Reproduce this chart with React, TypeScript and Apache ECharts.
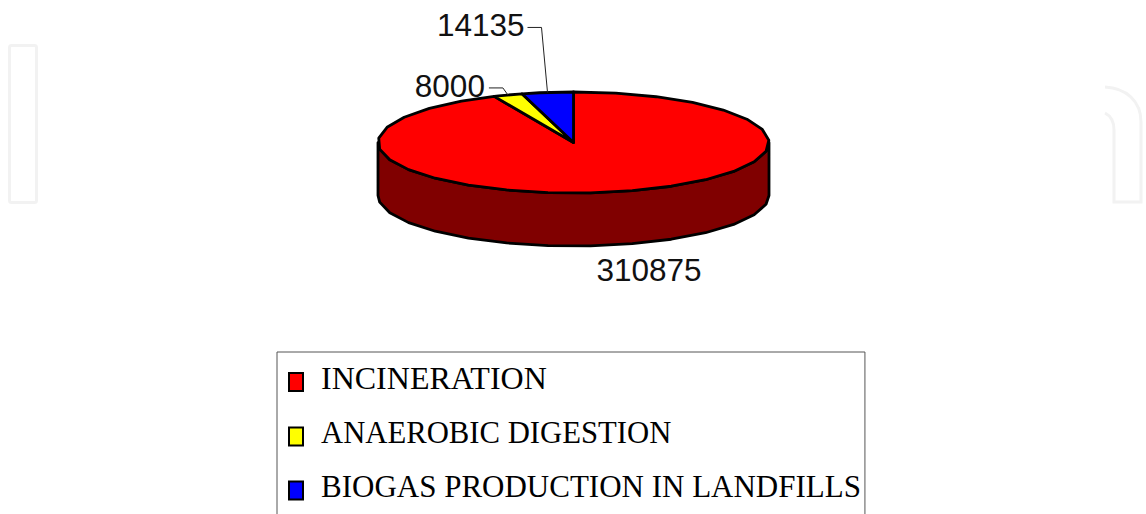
import React, { useEffect, useRef } from "react";
import * as echarts from "echarts";

const categories = ["INCINERATION", "ANAEROBIC DIGESTION", "BIOGAS PRODUCTION IN LANDFILLS"];
const values = [310875, 8000, 14135];
const sliceColors = ["#ff0000", "#ffff00", "#0000ff"];
const wallColors = ["#800000", "#808000", "#000080"];
const legendFontSizes = [32, 30.7, 31];
// label placement: text anchor relative to the slice's rim mid-point, plus an optional leader elbow
const labelOffsets = [
  { dx: 35, dy: 78, leader: null },
  { dx: -23, dy: -9, leader: [[-5, -7], [-19, -7]] },
  { dx: -23, dy: -67, leader: [[-6, -65], [-20, -65]] },
];

const CX = 573.5;
const CY = 142.5;
const RX = 195.5;
const RY = 50.5;
const DEPTH = 53;
const STEP = 12.5;

const pt = (deg: number, drop = 0): number[] => {
  const a = (deg * Math.PI) / 180;
  return [CX + RX * Math.sin(a), CY - RY * Math.cos(a) + drop];
};

const arcPoints = (from: number, to: number, drop = 0): number[][] => {
  const out = [pt(from, drop)];
  let d = Math.ceil(from / STEP + 1e-6) * STEP;
  while (d < to - 1e-6) {
    out.push(pt(d, drop));
    d += STEP;
  }
  out.push(pt(to, drop));
  return out;
};

const total = values.reduce((s, v) => s + v, 0);
const starts = values.map((_, i) => values.slice(0, i).reduce((s, v) => s + v, 0));

const watermarkD =
  "M1105 87 C1126 88 1141 101 1141 122 L1141 202 L1114 202 L1114 130 C1114 122 1111 116 1105 113";
echarts.graphic.registerShape("watermarkN", echarts.graphic.extendPath(watermarkD, {}) as any);

const stroke = { stroke: "#000", lineWidth: 2.8, lineJoin: "round" as const };

const makeSeries = (i: number) => ({
  type: "custom",
  name: categories[i],
  coordinateSystem: "none",
  silent: true,
  z: 2,
  itemStyle: { color: sliceColors[i] },
  data: [[values[i], starts[i]]],
  renderItem: (_: any, api: any) => {
    const value = api.value(0);
    const from = (api.value(1) / total) * 360;
    const to = from + (value / total) * 360;
    const mid = (from + to) / 2;
    const children: any[] = [];
    const wFrom = Math.max(from, 90);
    const wTo = Math.min(to, 270);
    if (wTo > wFrom) {
      const top = arcPoints(wFrom, wTo);
      const bottom = arcPoints(wFrom, wTo, DEPTH).reverse();
      children.push({
        type: "polygon",
        shape: { points: [...top, ...bottom] },
        style: { fill: wallColors[i], ...stroke },
      });
    }
    children.push({
      type: "polygon",
      shape: { points: [[CX, CY], ...arcPoints(from, to)] },
      style: { fill: sliceColors[i], ...stroke },
    });
    const rim = pt(mid);
    const off = labelOffsets[i];
    if (off.leader) {
      children.push({
        type: "polyline",
        shape: { points: [rim, ...off.leader.map((p) => [rim[0] + p[0], rim[1] + p[1]])] },
        style: { stroke: "#222", lineWidth: 1, fill: "none" },
      });
    }
    children.push({
      type: "text",
      x: rim[0] + off.dx,
      y: rim[1] + off.dy,
      style: {
        text: String(value),
        fill: "#111",
        fontFamily: "Liberation Sans",
        fontSize: 31.5,
        align: off.leader ? "right" : "center",
        verticalAlign: "middle",
      },
    });
    return { type: "group", children };
  },
});

export default function App() {
  const ref = useRef<HTMLDivElement>(null);
  useEffect(() => {
    document.body.style.margin = "0";
    document.body.style.overflow = "hidden";
    const chart = echarts.init(ref.current!, null, { renderer: "svg" });
    chart.setOption({
      animation: false,
      backgroundColor: "#fff",
      legend: {
        left: 277,
        top: 352,
        width: 586,
        height: 400,
        orient: "vertical",
        data: categories.map((name, i) => ({
          name,
          textStyle: { fontSize: legendFontSizes[i] },
        })),
        icon: "path://M0 0 M0 8 L14 8 L14 26 L0 26 Z",
        itemWidth: 14,
        itemHeight: 26,
        itemGap: 23,
        selectedMode: false,
        padding: [10, 4, 40, 11],
        borderColor: "#555",
        borderWidth: 1,
        backgroundColor: "#fff",
        itemStyle: { borderColor: "#000", borderWidth: 2 },
        textStyle: { fontFamily: "Liberation Serif", fontSize: 32, color: "#000", padding: [0, 0, 0, 13] },
      },
      graphic: [
        {
          type: "rect",
          silent: true,
          shape: { x: 9.5, y: 45.5, width: 27, height: 157, r: 2 },
          style: { fill: "none", stroke: "#f2f2f2", lineWidth: 3 },
        },
        {
          type: "watermarkN",
          silent: true,
          style: { fill: "none", stroke: "#f2f2f2", lineWidth: 3 },
        },
      ],
      series: categories.map((_, i) => makeSeries(i)),
    });
    return () => chart.dispose();
  }, []);
  return <div ref={ref} style={{ width: 1146, height: 514 }} />;
}
